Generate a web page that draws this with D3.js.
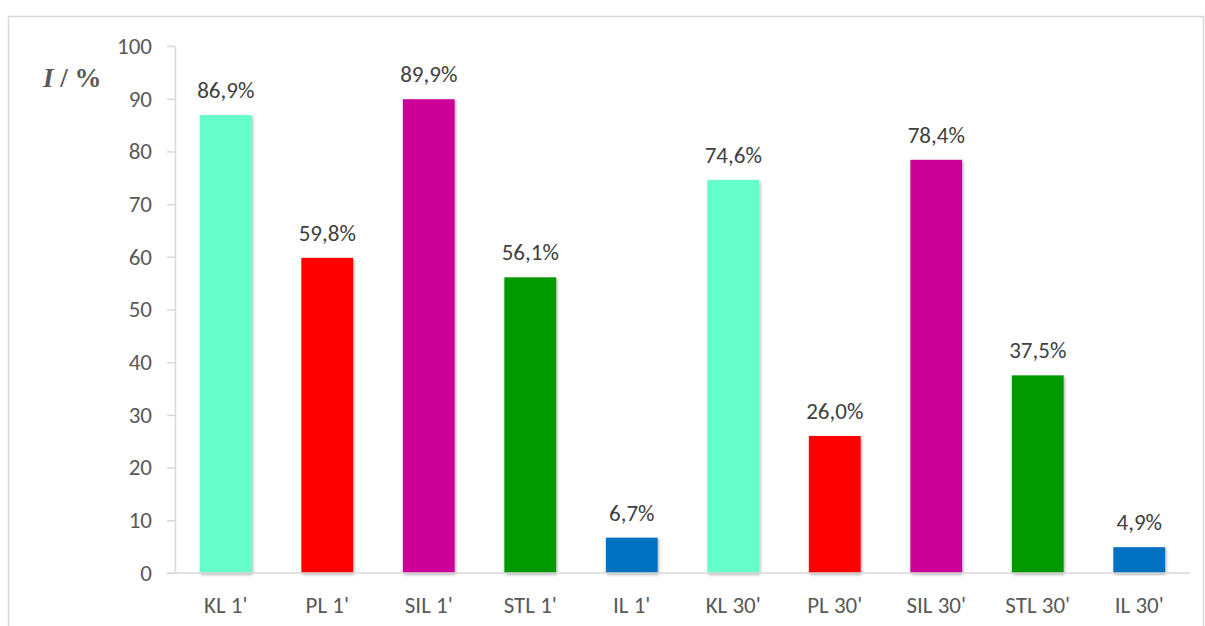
<!DOCTYPE html>
<html>
<head>
<meta charset="utf-8">
<script src="https://cdn.jsdelivr.net/npm/d3@7"></script>
<style>
  html, body { margin: 0; padding: 0; background: #fff; }
  svg { display: block; }
</style>
</head>
<body>
<svg id="chart" width="1205" height="626"></svg>
<script>
// Inhibition per sample and exposure time
const categories = ["KL 1'", "PL 1'", "SIL 1'", "STL 1'", "IL 1'", "KL 30'", "PL 30'", "SIL 30'", "STL 30'", "IL 30'"];
const values = [86.9, 59.8, 89.9, 56.1, 6.7, 74.6, 26.0, 78.4, 37.5, 4.9];
const colors = ["#66FFCC", "#FF0000", "#CC0099", "#009900", "#0070C0", "#66FFCC", "#FF0000", "#CC0099", "#009900", "#0070C0"];
const yTicks = [0, 10, 20, 30, 40, 50, 60, 70, 80, 90, 100];

const svg = d3.select("#chart");
const font = "Carlito, 'Open Sans', 'Noto Sans', sans-serif";
const textColor = "#595959";

// outer chart frame
svg.append("rect")
  .attr("x", 8.5).attr("y", 16.5)
  .attr("width", 1195).attr("height", 630)
  .attr("fill", "none").attr("stroke", "#d9d9d9").attr("stroke-width", 1.5);

const x = d3.scaleBand().domain(categories).range([175, 1190]).paddingInner(0.49).paddingOuter(0.245);
const y = d3.scaleLinear().domain([0, 100]).range([573, 46]);

// soft drop shadow under bars
const defs = svg.append("defs");
const f = defs.append("filter").attr("id", "shadow").attr("x", "-20%").attr("y", "-5%").attr("width", "140%").attr("height", "115%");
f.append("feDropShadow").attr("dx", 1).attr("dy", 1.5).attr("stdDeviation", 1.8)
  .attr("flood-color", "#000").attr("flood-opacity", 0.35);

// y axis
const yAxis = svg.append("g").attr("transform", "translate(175,0)")
  .call(d3.axisLeft(y).tickValues(yTicks).tickSize(8).tickSizeOuter(0).tickPadding(15));
yAxis.select(".domain").attr("stroke", "#d9d9d9").attr("stroke-width", 1.5);
yAxis.selectAll(".tick line").attr("stroke", "#d9d9d9").attr("stroke-width", 1.5);
yAxis.selectAll(".tick text").attr("fill", textColor).style("font-family", font).style("font-size", "23px");

// bars
svg.append("g").selectAll("rect").data(values).join("rect")
  .attr("x", (d, i) => x(categories[i]))
  .attr("y", d => y(d))
  .attr("width", x.bandwidth())
  .attr("height", d => y(0) - y(d))
  .attr("fill", (d, i) => colors[i])
  .attr("filter", "url(#shadow)");

// x axis
const xAxis = svg.append("g").attr("transform", `translate(0,${y(0)})`)
  .call(d3.axisBottom(x).tickSize(0).tickPadding(24));
xAxis.select(".domain").attr("stroke", "#d9d9d9").attr("stroke-width", 1.5)
  .attr("d", "M167,0H1190");
xAxis.selectAll(".tick text").attr("fill", textColor).style("font-family", font).style("font-size", "23px");

// value labels
svg.append("g").selectAll("text").data(values).join("text")
  .attr("x", (d, i) => x(categories[i]) + x.bandwidth() / 2)
  .attr("y", d => y(d) - 17)
  .attr("text-anchor", "middle")
  .attr("fill", "#404040")
  .style("font-family", font).style("font-size", "23px")
  .text(d => d3.format(".1f")(d).replace(".", ",") + "%");

// y axis title
const title = svg.append("text").attr("x", 43).attr("y", 87)
  .style("font-family", "'Liberation Serif', 'DejaVu Serif', serif")
  .style("font-size", "27px").style("font-weight", "bold").attr("fill", textColor);
title.append("tspan").style("font-style", "italic").text("I");
title.append("tspan").text(" / %");
</script>
</body>
</html>
